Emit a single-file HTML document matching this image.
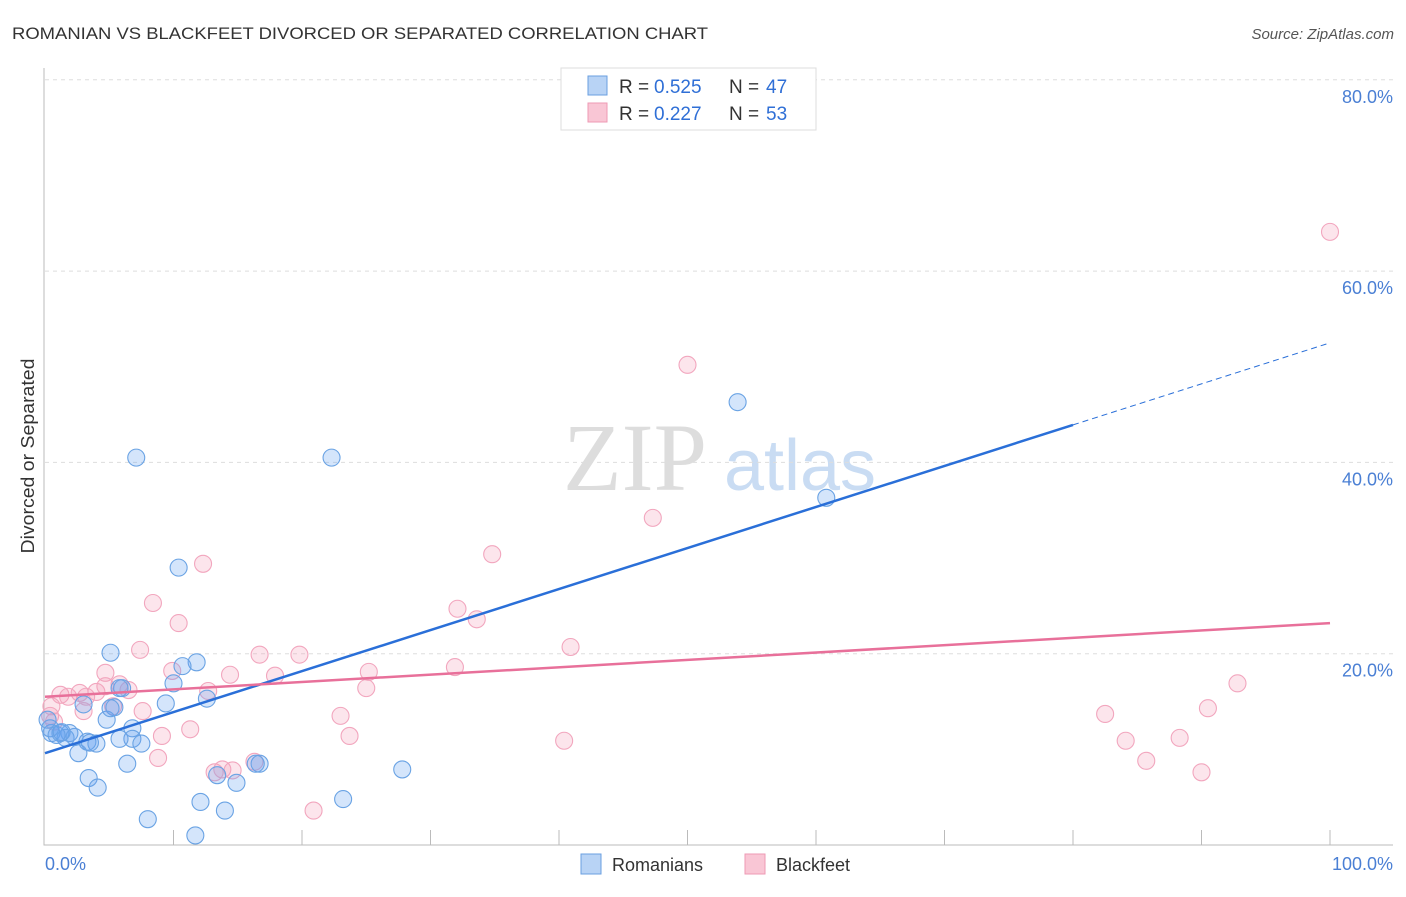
<!DOCTYPE html>
<html><head><meta charset="utf-8"><style>
body{margin:0;background:#fff;font-family:"Liberation Sans",sans-serif}
</style></head><body>
<svg width="1406" height="892" xmlns="http://www.w3.org/2000/svg" id="svg" font-family="Liberation Sans, sans-serif">
<text x="12" y="39" font-size="17" fill="#333" textLength="696" lengthAdjust="spacingAndGlyphs">ROMANIAN VS BLACKFEET DIVORCED OR SEPARATED CORRELATION CHART</text>
<text x="1394" y="39" font-size="15" fill="#555" font-style="italic" text-anchor="end">Source: ZipAtlas.com</text>
<text x="34" y="456" font-size="18" fill="#333" transform="rotate(-90 34 456)" text-anchor="middle" textLength="195" lengthAdjust="spacingAndGlyphs">Divorced or Separated</text>
<g><text x="635" y="490" font-size="96" font-family="Liberation Serif, serif" fill="#ddd" text-anchor="middle">ZIP</text><text x="800" y="490" font-size="72" fill="#c9dcf3" text-anchor="middle">atlas</text></g>
<g id="grid"></g><g id="marks"></g>
<g>
<rect x="561" y="68" width="255" height="62" fill="#fff" stroke="#ddd"/>
<rect x="588" y="76" width="19" height="19" fill="#b8d3f5" stroke="#6a9fe0"/>
<text x="619" y="93" font-size="19" fill="#333">R =</text><text x="654" y="93" font-size="19" fill="#2f6fd6">0.525</text>
<text x="729" y="93" font-size="19" fill="#333">N =</text><text x="766" y="93" font-size="19" fill="#2f6fd6">47</text>
<rect x="588" y="103" width="19" height="19" fill="#f9c6d5" stroke="#ee9ab4"/>
<text x="619" y="120" font-size="19" fill="#333">R =</text><text x="654" y="120" font-size="19" fill="#2f6fd6">0.227</text>
<text x="729" y="120" font-size="19" fill="#333">N =</text><text x="766" y="120" font-size="19" fill="#2f6fd6">53</text>
</g>
<g>
<rect x="581" y="854" width="20" height="20" fill="#b8d3f5" stroke="#6a9fe0"/>
<text x="612" y="871" font-size="18" fill="#333">Romanians</text>
<rect x="745" y="854" width="20" height="20" fill="#f9c6d5" stroke="#ee9ab4"/>
<text x="776" y="871" font-size="18" fill="#333">Blackfeet</text>
</g>
</svg>
<script>
const yTicks=[20,40,60,80];
const yTickLabels=["20.0%","40.0%","60.0%","80.0%"];
const xTickLabels=["0.0%","100.0%"];
const blueX=[7.1,22.3,10.4,53.9,60.8,5.1,11.8,10.7,10.0,12.6,9.4,6.0,5.4,3.0,4.8,6.8,6.8,5.8,7.5,0.5,1.2,1.9,0.4,1.6,2.3,3.3,4.0,2.6,6.4,3.4,4.1,8.0,12.1,14.0,14.9,13.4,16.7,16.4,23.2,27.8,11.7,0.9,1.3,0.2,5.8,5.1,3.5];
const blueY=[40.5,40.5,29.0,46.3,36.3,20.1,19.1,18.7,16.9,15.3,14.8,16.4,14.4,14.7,13.1,12.2,11.1,11.1,10.6,11.7,11.7,11.7,12.2,11.2,11.3,10.8,10.6,9.6,8.5,7.0,6.0,2.7,4.5,3.6,6.5,7.3,8.5,8.5,4.8,7.9,1.0,11.5,11.8,13.1,16.4,14.3,10.7];
const pinkX=[100,50.0,47.3,34.8,12.3,8.4,10.4,32.1,33.6,40.9,7.4,16.7,19.8,31.9,25.2,14.4,17.9,9.9,4.7,4.7,5.8,6.5,4.0,2.7,1.2,1.8,3.2,12.7,25.0,7.6,5.3,0.5,3.0,23.0,92.8,90.5,82.5,84.1,88.3,85.7,90.0,40.4,23.7,9.1,11.3,8.8,16.3,13.2,13.8,14.6,20.9,0.4,0.7];
const pinkY=[64.1,50.2,34.2,30.4,29.4,25.3,23.2,24.7,23.6,20.7,20.4,19.9,19.9,18.6,18.1,17.8,17.7,18.2,18.0,16.6,16.8,16.2,16.0,15.9,15.7,15.5,15.5,16.1,16.4,14.0,14.5,14.5,14.0,13.5,16.9,14.3,13.7,10.9,11.2,8.8,7.6,10.9,11.4,11.4,12.1,9.1,8.7,7.6,7.9,7.8,3.6,13.5,12.9];
const blueTrend=[9.6,52.5];
const pinkTrend=[15.5,23.2];
const X=v=>45+v*12.85, Y=v=>845-v*9.565;
const NS="http://www.w3.org/2000/svg";
const grid=document.getElementById('grid'), marks=document.getElementById('marks');
function mk(p,tag,a){const e=document.createElementNS(NS,tag);for(const k in a)e.setAttribute(k,a[k]);p.appendChild(e);return e;}
yTicks.forEach((t,i)=>{
 const l=mk(grid,'line',{x1:45,x2:1393,y1:Y(t),y2:Y(t),stroke:'#ddd','stroke-dasharray':'4 4'});
 
 
 const tx=mk(grid,'text',{x:1393,y:Y(t)+23,'font-size':18,fill:'#4a7fd4','text-anchor':'end'});
 tx.textContent=yTickLabels[i];
 
 
});
const ax=mk(grid,'path',{d:'M44 68V845H1393',stroke:'#bbb',fill:'none'});


for(let i=1;i<=10;i++){
 const t=mk(grid,'line',{x1:X(i*10),x2:X(i*10),y1:830,y2:845,stroke:'#bbb'});
 
 
}
[[0,'start',45],[100,'end',1393]].forEach((d,i)=>{
 const tx=mk(grid,'text',{x:d[2],y:870,'font-size':18,fill:'#4a7fd4','text-anchor':d[1]});
 tx.textContent=xTickLabels[i];
 
 
});
function pts(xs,ys,fill,stroke,name){xs.forEach((x,i)=>{
 const c=mk(marks,'circle',{cx:X(x),cy:Y(ys[i]),r:8.5,fill:fill,stroke:stroke,'stroke-width':1.1});
 
 
});}
pts(pinkX,pinkY,'rgba(245,160,185,0.28)','#f2a6be','blackfeet-point');
pts(blueX,blueY,'rgba(100,160,240,0.28)','#6aa3e4','romanian-point');
const bm=blueTrend[0]+(blueTrend[1]-blueTrend[0])*0.8;
let l=mk(marks,'line',{x1:X(0),y1:Y(blueTrend[0]),x2:X(80),y2:Y(bm),stroke:'#2a6fd8','stroke-width':2.5});


l=mk(marks,'line',{x1:X(80),y1:Y(bm),x2:X(100),y2:Y(blueTrend[1]),stroke:'#2a6fd8','stroke-width':1,'stroke-dasharray':'6 4'});


l=mk(marks,'line',{x1:X(0),y1:Y(pinkTrend[0]),x2:X(100),y2:Y(pinkTrend[1]),stroke:'#e8709a','stroke-width':2.5});


</script>
</body></html>
